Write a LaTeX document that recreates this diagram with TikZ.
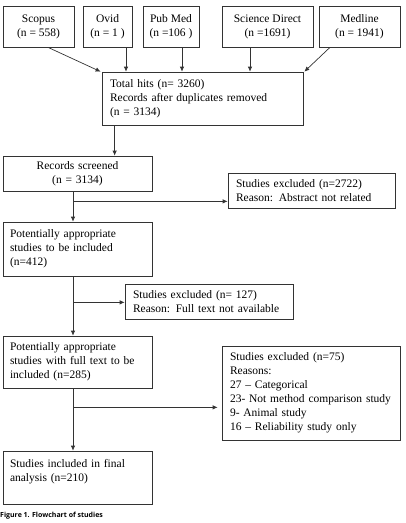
\documentclass[tikz,border=0pt]{standalone}
\usepackage{fontspec}
\setmainfont{Liberation Serif}
\newfontfamily\capfont{Open Sans}
\usetikzlibrary{arrows.meta,positioning,calc}
\definecolor{LineGray}{HTML}{333333}

\begin{document}
\begin{tikzpicture}[x=1pt,y=-1pt,font=\fontsize{11.5}{14}\selectfont,
    box/.style={draw=LineGray,line width=0.7pt,inner xsep=7pt,inner ysep=3pt},
    dbbox/.style={box,align=center,inner xsep=0pt,minimum height=41pt},
    arr/.style={-{Latex[length=5pt,width=4.5pt]},line width=0.7pt,LineGray}]
        \useasboundingbox (0,0) rectangle (406,523);
        \clip (0,0) rectangle (406,523);
        % databases
        \node[dbbox,minimum width=71pt] (scopus) at (38.5,26.5) {Scopus\\(n = 558)};
        \node[dbbox,minimum width=49pt] (ovid) at (107.5,26.5) {Ovid\\(n = 1 )};
        \node[dbbox,minimum width=56pt] (pubmed) at (171,26.5) {Pub Med\\(n =106 )};
        \node[dbbox,minimum width=91pt] (scidir) at (267.5,26.5) {Science Direct\\(n =1691)};
        \node[dbbox,minimum width=81pt] (medline) at (359.5,26.5) {Medline\\(n = 1941)};
        % main column
        \node[box,align=left,text width=185pt,inner xsep=8pt,minimum height=53pt] (total) at (202.5,98.5) {Total hits (n= 3260)\\Records after duplicates removed\\(n = 3134)};
        \node[box,align=center,text width=135pt,minimum height=35pt] (screened) at (77.5,173.5) {Records screened\\(n = 3134)};
        \node[box,align=left,text width=135pt,minimum height=54pt] (pot1) at (77.5,249) {Potentially appropriate\\studies to be included\\(n=412)};
        \node[box,align=left,text width=135pt,minimum height=52pt] (pot2) at (77.5,362) {Potentially appropriate\\studies with full text to be\\included (n=285)};
        \node[box,align=left,text width=135pt,minimum height=53pt] (final) at (77.5,477.5) {Studies included in final\\analysis (n=210)\\\mbox{}};
        % excluded
        \node[box,align=left,text width=151pt,inner xsep=8pt,minimum height=35pt] (excl1) at (311.5,190.5) {Studies excluded (n=2722)\\Reason: Abstract not related};
        \node[box,align=left,text width=152pt,inner xsep=8pt,minimum height=35pt] (excl2) at (209,301.5) {Studies excluded (n= 127)\\Reason: Full text not available};
        \node[box,align=left,text width=162pt,inner xsep=8pt,minimum height=94pt] (excl3) at (311,393) {Studies excluded (n=75)\\Reasons:\\27 -- Categorical\\23- Not method comparison study\\9- Animal study\\16 -- Reliability study only};
        % arrows into total
        \draw[arr] ([xshift=9.5pt]scopus.south) -- ([xshift=-1pt]total.north west);
        \coordinate (o1) at ([xshift=18.5pt]ovid.south);
        \draw[arr] (o1) -- (o1 |- total.north);
        \coordinate (p1) at ([xshift=11pt]pubmed.south);
        \draw[arr] (p1) -- (p1 |- total.north);
        \coordinate (d1) at ([xshift=-17.5pt]scidir.south);
        \draw[arr] (d1) -- (d1 |- total.north);
        \draw[arr] ([xshift=-29.5pt]medline.south) -- ([xshift=1pt]total.north east);
        \coordinate (t1) at ([xshift=13pt]total.south west);
        \draw[arr] (t1) -- (t1 |- screened.north);
        % spine
        \coordinate (s1) at ([xshift=-4.5pt]screened.south);
        \draw[arr] (s1) -- (s1 |- pot1.north);
        \coordinate (b1) at ($(s1)+(0,10)$);
        \draw[arr] (b1) -- (b1 -| excl1.west);
        \coordinate (s2) at ([xshift=-4.5pt]pot1.south);
        \draw[arr] (s2) -- (s2 |- pot2.north);
        \coordinate (b2) at ($(s2)+(0,26)$);
        \draw[arr] (b2) -- (b2 -| excl2.west);
        \coordinate (s3) at ([xshift=-4.5pt]pot2.south);
        \draw[arr] (s3) -- (s3 |- final.north);
        \coordinate (b3) at ($(s3)+(0,19)$);
        \draw[arr] (b3) -- ([xshift=-4pt]b3 -| excl3.west);
        % caption
        \node[anchor=north west,inner sep=0pt,font=\capfont\bfseries\fontsize{7}{8}\selectfont] (cap) at (0,512) {Figure 1. Flowchart of studies};
      \end{tikzpicture}
\end{document}
